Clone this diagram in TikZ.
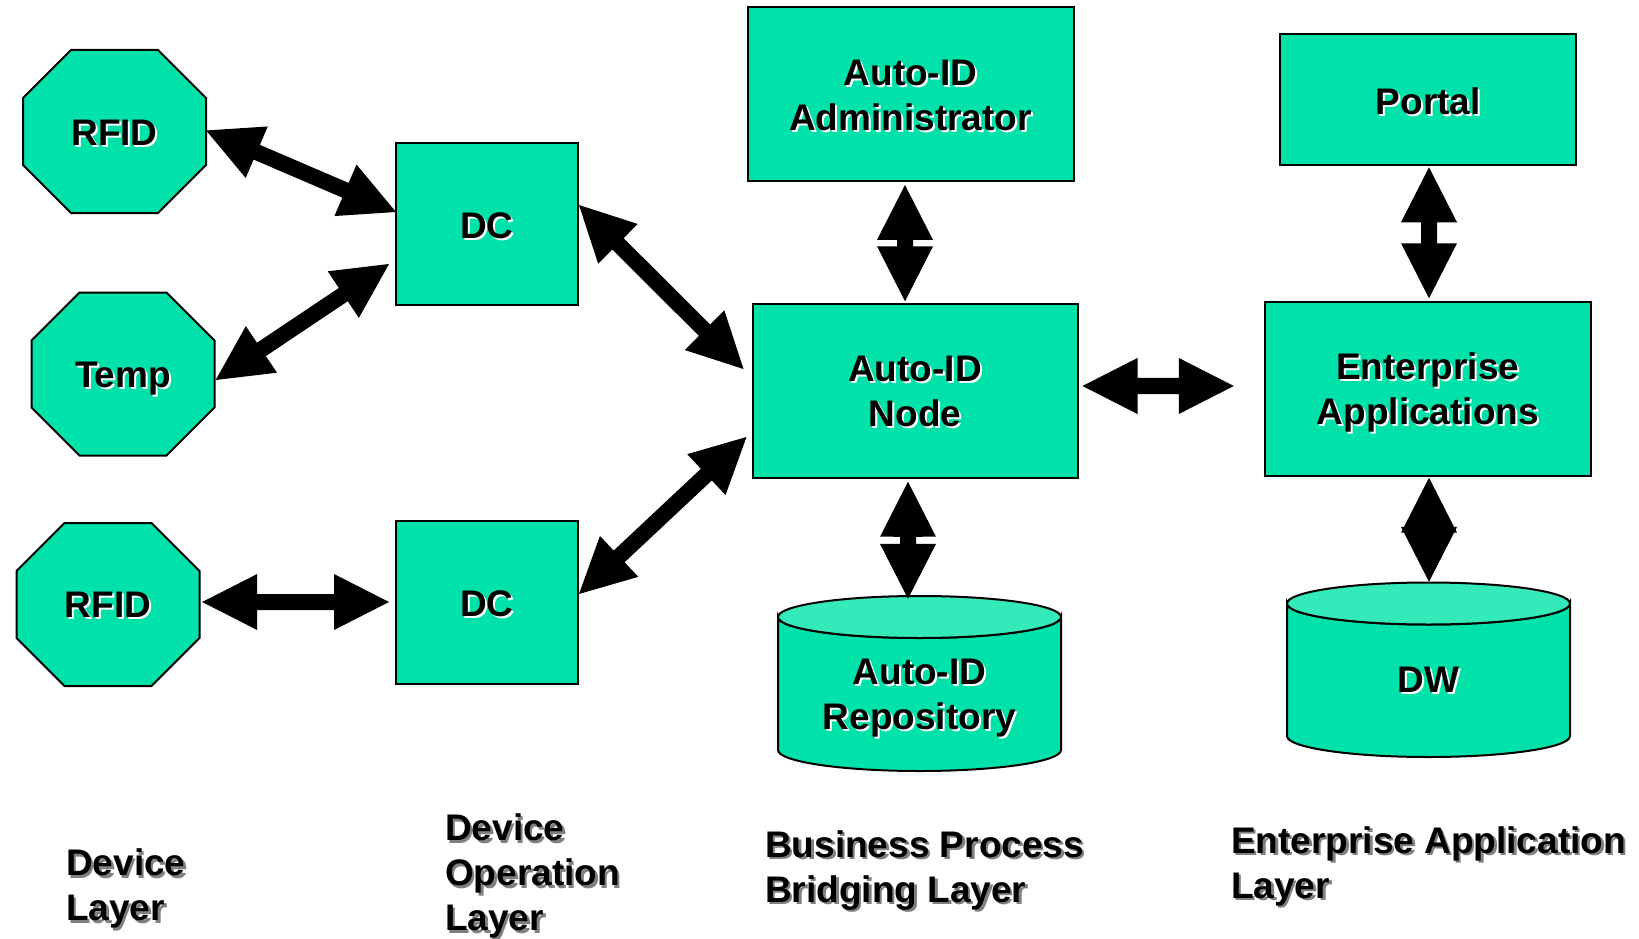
\documentclass[tikz,border=0pt]{standalone}
\usepackage{fontspec}
\setmainfont{Liberation Sans}
\usetikzlibrary{calc}

\definecolor{boxgreen}{RGB}{0,226,169}
\definecolor{capgreen}{RGB}{52,234,186}

% vertical drop of the text inside a shape (box size left unchanged)
\def\tdrop{2pt}
% text with a small drop shadow (white inside shapes, grey for captions)
\newcommand\shw[1]{\raisebox{-\tdrop}[\height][\depth]{\rlap{\kern2pt\raisebox{-2pt}{\color{white}#1}}#1}}
\newcommand\shg[1]{\rlap{\kern2.5pt\raisebox{-2.5pt}{\color{gray}#1}}#1}

\tikzset{
  outline/.style={draw=black, line width=2pt, fill=boxgreen},
  txt/.style={inner sep=0pt, font=\bfseries\fontsize{37}{45}\selectfont, align=center},
  block/.style={outline, txt, rectangle},
  ghost/.style={txt, rectangle},
  drop/.style={execute at begin node={\def\tdrop{#1}}},
  caption/.style={inner sep=0pt, font=\bfseries\fontsize{37}{45}\selectfont, align=left, anchor=west},
  barrow/.style={fill=black},
}

% octagon: name, centre, text, text drop
\newcommand\octnode[4]{%
  \filldraw[outline, shift={(#2)}] (-91.5,-33.5) -- (-43.5,-81.5) -- (43.5,-81.5) -- (91.5,-33.5)
    -- (91.5,33.5) -- (43.5,81.5) -- (-43.5,81.5) -- (-91.5,33.5) -- cycle;
  \node[ghost, drop=#4, minimum width=183pt, minimum height=163pt] (#1) at (#2) {#3};}

% database cylinder: centre x, top-cap y, bottom-cap y, half width
\newcommand\cylshape[4]{%
  \filldraw[outline] (#1-#4,#2) -- (#1-#4,#3)
    arc[start angle=180, end angle=0, x radius=#4, y radius=21]
    -- (#1+#4,#2) arc[start angle=0, end angle=180, x radius=#4, y radius=21] -- cycle;
  \filldraw[outline, fill=capgreen] (#1,#2) ellipse[x radius=#4, y radius=21];}

% double-headed block arrow between two named points
\newcommand\biarrow[2]{%
  \fill[barrow] (#1) -- ($(#1)!61.72pt!27:(#2)$) -- ($(#1)!55.58pt!8.28:(#2)$)
    -- ($(#2)!55.58pt!-8.28:(#1)$) -- ($(#2)!61.72pt!-27:(#1)$) -- (#2)
    -- ($(#2)!61.72pt!27:(#1)$) -- ($(#2)!55.58pt!8.28:(#1)$)
    -- ($(#1)!55.58pt!-8.28:(#2)$) -- ($(#1)!61.72pt!-27:(#2)$) -- cycle;}

\begin{document}
\begin{tikzpicture}[x=1pt, y=-1pt]
\useasboundingbox (0,0) rectangle (1639,939);

% device layer
\octnode{rfid1}{114.5,131.5}{\shw{RFID}}{2pt}
\octnode{temp}{123,374}{\shw{Temp}}{6pt}
\octnode{rfid2}{108,604.5}{\shw{RFID}}{1pt}

% device operation layer
\node[block, drop=3pt, minimum width=182pt, minimum height=162pt] (dc1) at (487,224) {\shw{DC}};
\node[block, drop=3pt, minimum width=182pt, minimum height=163pt] (dc2) at (487,602) {\shw{DC}};

% business process bridging layer
\node[block, drop=2pt, minimum width=326pt, minimum height=174pt] (admin) at (910.5,94) {\shw{Auto-ID}\\\shw{Administrator}};
\node[block, drop=1pt, minimum width=325pt, minimum height=173.5pt] (node) at (915,391) {\shw{Auto-ID}\\\shw{Node}};
\cylshape{919.5}{617}{750}{141.5}
\node[ghost, drop=4.5pt, minimum width=283pt, minimum height=197pt] (repo) at (919.5,694.5) {\shw{Auto-ID}\\\shw{Repository}};

% enterprise application layer
\node[block, drop=2pt, minimum width=296pt, minimum height=131pt] (portal) at (1428.4,99.8) {\shw{Portal}};
\node[block, drop=4pt, minimum width=326pt, minimum height=173.5pt] (ent) at (1427.8,389) {\shw{Enterprise}\\\shw{Applications}};
\cylshape{1428.5}{603.5}{736}{141.5}
\node[ghost, drop=2pt, minimum width=283pt, minimum height=194pt] (dw) at (1428.5,679) {\shw{DW}};

% arrow end points
\coordinate (a1) at ($(rfid1.east)+(0,-1)$);
\coordinate (b1) at ($(dc1.west)+(1,-12)$);
\coordinate (a2) at ($(temp.east)+(1,6)$);
\coordinate (b2) at ($(dc1.west)+(-6,40)$);
\coordinate (a3) at ($(dc1.east)+(0,-19)$);
\coordinate (b3) at ($(node.west)+(-8,-22)$);
\coordinate (a4) at ($(dc2.east)+(0,-8)$);
\coordinate (b4) at ($(node.west)+(-5,46)$);
\coordinate (a5) at ($(rfid2.east)+(2.5,-2.5)$);
\coordinate (b5) at ($(dc2.west)+(-6,0)$);
\coordinate (a6) at ($(admin.south)+(-5.5,3)$);
\coordinate (b6) at ($(node.north)+(-10,-2)$);
\coordinate (a7) at ($(node.south)+(-7,3)$);
\coordinate (b7) at ($(repo.north)+(-11.5,3)$);
\coordinate (a8) at ($(node.east)+(4,-5)$);
\coordinate (b8) at ($(ent.west)+(-30,-3)$);
\coordinate (a9) at ($(portal.south)+(0.6,1)$);
\coordinate (b9) at ($(ent.north)+(1.2,-3)$);
\coordinate (a10) at ($(ent.south)+(1.2,1)$);
\coordinate (b10) at ($(dw.north)+(0.5,0)$);

\biarrow{a1}{b1}
\biarrow{a2}{b2}
\biarrow{a3}{b3}
\biarrow{a4}{b4}
\biarrow{a5}{b5}
\biarrow{a6}{b6}
\biarrow{a7}{b7}
\biarrow{a8}{b8}
\biarrow{a9}{b9}
\biarrow{a10}{b10}

% layer captions
\node[caption] (cap1) at (66,890) {\shg{Device}\\\shg{Layer}};
\node[caption] (cap2) at (445,877.5) {\shg{Device}\\\shg{Operation}\\\shg{Layer}};
\node[caption] (cap3) at (765,871.5) {\shg{Business Process}\\\shg{Bridging Layer}};
\node[caption] (cap4) at (1231,867.5) {\shg{Enterprise Application}\\\shg{Layer}};
\end{tikzpicture}
\end{document}
